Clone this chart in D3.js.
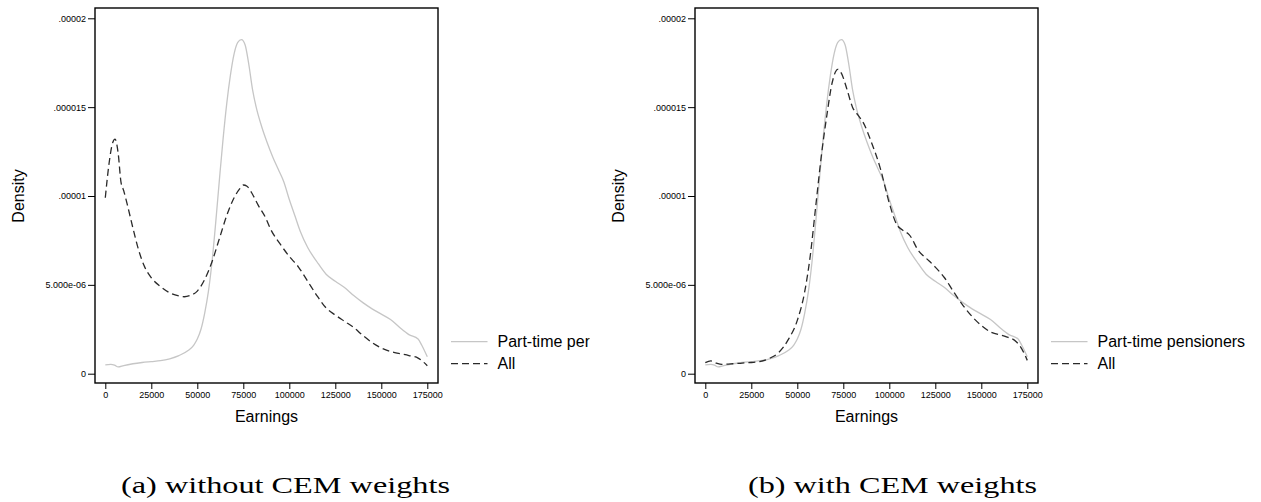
<!DOCTYPE html>
<html>
<head>
<meta charset="utf-8">
<script src="https://cdn.jsdelivr.net/npm/d3@7"></script>
<style>
  body { margin: 0; background: #fff; }
  svg { display: block; }
</style>
</head>
<body>
<svg id="chart" width="1261" height="502"></svg>
<script>

// tick values and labels
const earningsTicks = [0, 25000, 50000, 75000, 100000, 125000, 150000, 175000];
const densityTicks = [0, 0.000005, 0.00001, 0.000015, 0.00002];
const densityTickLabels = ['0', '5.000e-06', '.00001', '.000015', '.00002'];
const seriesNames = ['Part-time pensioners', 'All'];
const captions = ['(a) without CEM weights', '(b) with CEM weights'];

// kernel density, part-time pensioners  [earnings, density]
const partTime = [
    [0, 5.0e-7], [3000, 5.2e-7], [5000, 4.8e-7], [7000, 3.8e-7], [10000, 4.6e-7],
    [15000, 5.6e-7], [20000, 6.3e-7], [25000, 6.8e-7], [30000, 7.3e-7], [35000, 8.4e-7],
    [40000, 1.02e-6], [45000, 1.3e-6], [48000, 1.6e-6], [50000, 1.95e-6], [52000, 2.5e-6],
    [54000, 3.4e-6], [56000, 4.6e-6], [58000, 6.3e-6], [60000, 8.5e-6], [62000, 1.09e-5],
    [64000, 1.32e-5], [66000, 1.52e-5], [68000, 1.68e-5], [70000, 1.80e-5], [72000, 1.865e-5],
    [74000, 1.88e-5], [76000, 1.85e-5], [78000, 1.74e-5], [80000, 1.6e-5], [82000, 1.5e-5],
    [85000, 1.39e-5], [88000, 1.3e-5], [91000, 1.22e-5], [94000, 1.15e-5], [97000, 1.08e-5],
    [100000, 9.8e-6], [103000, 8.9e-6], [106000, 8.0e-6], [110000, 7.1e-6], [115000, 6.3e-6],
    [120000, 5.6e-6], [125000, 5.2e-6], [130000, 4.85e-6], [135000, 4.4e-6], [140000, 4.0e-6],
    [145000, 3.65e-6], [150000, 3.35e-6], [155000, 3.05e-6], [160000, 2.6e-6], [165000, 2.2e-6],
    [170000, 1.95e-6], [172000, 1.6e-6], [175000, 9.5e-7]
];

// all workers, no weights
const allPlain = [
    [0, 9.9e-6], [2000, 1.18e-5], [4000, 1.3e-5], [5300, 1.32e-5], [7000, 1.24e-5],
    [8500, 1.08e-5], [10000, 1.03e-5], [12000, 9.5e-6], [15000, 8.2e-6], [18000, 7.0e-6],
    [21000, 6.1e-6], [25000, 5.4e-6], [30000, 4.9e-6], [35000, 4.55e-6], [40000, 4.38e-6],
    [43000, 4.33e-6], [46000, 4.4e-6], [50000, 4.65e-6], [54000, 5.3e-6], [58000, 6.3e-6],
    [62000, 7.6e-6], [66000, 8.9e-6], [70000, 9.9e-6], [73000, 1.04e-5], [75000, 1.062e-5],
    [77000, 1.055e-5], [80000, 1.01e-5], [83000, 9.5e-6], [87000, 8.8e-6], [90000, 8.1e-6],
    [95000, 7.3e-6], [100000, 6.6e-6], [105000, 6.0e-6], [110000, 5.2e-6], [115000, 4.4e-6],
    [120000, 3.7e-6], [125000, 3.3e-6], [130000, 2.95e-6], [135000, 2.6e-6], [140000, 2.15e-6],
    [145000, 1.75e-6], [150000, 1.45e-6], [155000, 1.25e-6], [160000, 1.13e-6], [165000, 1.02e-6],
    [170000, 8.8e-7], [175000, 4.5e-7]
];

// all workers, CEM weighted
const allWeighted = [
    [0, 6.2e-7], [3000, 7.2e-7], [6000, 6.0e-7], [9000, 5.3e-7], [15000, 5.6e-7],
    [20000, 6.0e-7], [25000, 6.3e-7], [30000, 6.9e-7], [35000, 8.7e-7], [40000, 1.2e-6],
    [45000, 1.9e-6], [50000, 3.0e-6], [54000, 4.6e-6], [57000, 6.6e-6], [60000, 9.4e-6],
    [63000, 1.22e-5], [66000, 1.45e-5], [69000, 1.64e-5], [72000, 1.713e-5], [74000, 1.69e-5],
    [77000, 1.6e-5], [80000, 1.5e-5], [83000, 1.455e-5], [86000, 1.41e-5], [90000, 1.31e-5],
    [95000, 1.16e-5], [100000, 9.6e-6], [104000, 8.4e-6], [107000, 8.1e-6], [111000, 7.8e-6],
    [116000, 6.9e-6], [120000, 6.5e-6], [125000, 6.0e-6], [130000, 5.4e-6], [135000, 4.6e-6],
    [140000, 3.85e-6], [147000, 3.0e-6], [155000, 2.35e-6], [163000, 2.1e-6], [169000, 1.8e-6],
    [172000, 1.4e-6], [175000, 7.5e-7]
];

const svg = d3.select('#chart');

const frame = { left: 95, right: 438, top: 8, bottom: 383 };

const x = d3.scaleLinear().domain([0, 175000]).range([105.3, 427.3]);
const y = d3.scaleLinear().domain([0, 0.00002]).range([373.7, 18.3]);

const line = d3.line()
    .x(d => x(d[0]))
    .y(d => y(d[1]))
    .curve(d3.curveMonotoneX);

const styles = [
    { stroke: '#c6c6c6', dash: null },
    { stroke: '#2a2a2a', dash: '7,4' }
];

// left legend label is cut off in the original
svg.append('defs').append('clipPath')
    .attr('id', 'clipA')
    .append('rect')
    .attr('x', 0).attr('y', 0).attr('width', 589.5).attr('height', 502);

function drawPanel (offsetX, seriesList, clipId) {

    const g = svg.append('g')
        .attr('transform', `translate(${offsetX}, 0)`);

    if (clipId) {
        g.attr('clip-path', `url(#${clipId})`);
    }

    // curves
    seriesList.forEach((s, k) => {
        g.append('path')
            .datum(s)
            .attr('d', line)
            .attr('fill', 'none')
            .attr('stroke', styles[k].stroke)
            .attr('stroke-width', 1.3)
            .attr('stroke-dasharray', styles[k].dash);
    });

    // plot region border
    g.append('rect')
        .attr('x', frame.left)
        .attr('y', frame.top)
        .attr('width', frame.right - frame.left)
        .attr('height', frame.bottom - frame.top)
        .attr('fill', 'none')
        .attr('stroke', '#000')
        .attr('stroke-width', 1.4);

    const yAxis = g.append('g')
        .attr('transform', `translate(${frame.left}, 0)`)
        .call(d3.axisLeft(y)
            .tickValues(densityTicks)
            .tickFormat((d, i) => densityTickLabels[i])
            .tickSize(7)
            .tickPadding(2));

    const xAxis = g.append('g')
        .attr('transform', `translate(0, ${frame.bottom})`)
        .call(d3.axisBottom(x)
            .tickValues(earningsTicks)
            .tickFormat(d3.format('d'))
            .tickSize(6)
            .tickPadding(3));

    [yAxis, xAxis].forEach(a => {
        a.select('.domain').remove();
        a.selectAll('line').attr('stroke', '#000').attr('stroke-width', 1);
        a.selectAll('text')
            .attr('fill', '#000')
            .style('font-family', '"Liberation Sans", Arial, sans-serif')
            .style('font-size', '9px');
    });

    g.append('text')
        .attr('transform', 'translate(24, 196) rotate(-90)')
        .attr('text-anchor', 'middle')
        .style('font-family', '"Liberation Sans", Arial, sans-serif')
        .style('font-size', '16px')
        .text('Density');

    g.append('text')
        .attr('x', (frame.left + frame.right) / 2)
        .attr('y', 422)
        .attr('text-anchor', 'middle')
        .style('font-family', '"Liberation Sans", Arial, sans-serif')
        .style('font-size', '16px')
        .text('Earnings');

    // legend
    seriesNames.forEach((name, k) => {
        const ly = 341.7 + k * 22;
        g.append('line')
            .attr('x1', 451).attr('x2', 487.5)
            .attr('y1', ly).attr('y2', ly)
            .attr('stroke', styles[k].stroke)
            .attr('stroke-width', 1.3)
            .attr('stroke-dasharray', styles[k].dash);
        g.append('text')
            .attr('x', 497.5)
            .attr('y', ly + 5.5)
            .style('font-family', '"Liberation Sans", Arial, sans-serif')
            .style('font-size', '16px')
            .text(name);
    });

    return g;
}

drawPanel(0, [partTime, allPlain], 'clipA');
drawPanel(600, [partTime, allWeighted], null);

// sub-figure captions
const captionPos = [[285.5, 329], [892.5, 289]];
captions.forEach((c, i) => {
    svg.append('text')
        .attr('x', captionPos[i][0])
        .attr('y', 492.5)
        .attr('text-anchor', 'middle')
        .attr('textLength', captionPos[i][1])
        .attr('lengthAdjust', 'spacingAndGlyphs')
        .style('font-family', '"Liberation Serif", "Times New Roman", serif')
        .style('font-size', '24px')
        .text(c);
});

</script>
</body>
</html>
